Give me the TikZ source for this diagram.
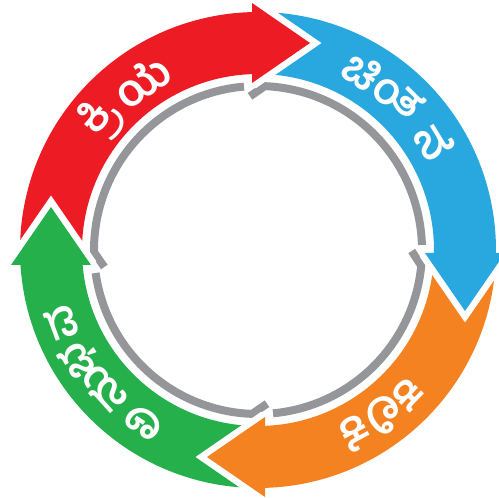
\documentclass[tikz,border=0pt]{standalone}
\usepackage{fontspec}
\newfontfamily\kn[Script=Kannada]{Hind Mysuru}
\definecolor{cred}{RGB}{237,28,36}
\definecolor{cblue}{RGB}{41,168,224}
\definecolor{corange}{RGB}{245,130,32}
\definecolor{cgreen}{RGB}{38,176,75}
\definecolor{cgray}{RGB}{148,150,153}
\newcommand\bandseg[3]{\fill[#1] (#2:238) arc[start angle=#2, end angle=#3, radius=238] -- (#3:176) arc[start angle=#3, end angle=#2, radius=176] -- cycle;}
\newcommand\headhalo[2]{\begin{scope}[rotate=#1]\draw[halo] (-#2,247) -- ({-#2+58},207) -- (-#2,167);\end{scope}}
\newcommand\headfill[3]{\begin{scope}[rotate=#1]\fill[#3] (-#2,247) -- ({-#2+58},207) -- (-#2,167) -- cycle;\end{scope}}
\begin{document}
\begin{tikzpicture}[x=1pt,y=1pt,
  halo/.style={draw=white, line width=13pt, miter limit=20},
  ring/.style={draw=cgray, line width=8pt},
  lbl/.style={text=white, font=\kn\bfseries\fontsize{44}{48}\selectfont, inner sep=0pt, anchor=center}]
\useasboundingbox (0,0) rectangle (499,498);
\begin{scope}[shift={(258,248)}]
  % gray inner ring pieces
  \draw[ring] (92.98:153.9) -- (87.62:164) arc[start angle=87.62, end angle=1.75, radius=164];
  \draw[ring] (-0.37:153.7) -- (-5.53:164) arc[start angle=-5.53, end angle=-84.75, radius=164];
  \draw[ring] (-86.65:153.96) -- (-92.03:164) arc[start angle=-92.03, end angle=-171.94, radius=164];
  \draw[ring] (186.31:154.6) -- (180.77:164) arc[start angle=180.77, end angle=94.9, radius=164];
  % coloured bands
  \bandseg{cred}{182.66}{89.66}
  \bandseg{cblue}{90.16}{-2.83}
  \bandseg{corange}{-2.33}{-90.06}
  \bandseg{cgreen}{-89.56}{-177.84}
  % heads with white halo
  \headhalo{0}{6}
  \headhalo{-90}{-3}
  \headhalo{-180}{7}
  \headhalo{90}{15}
  \headfill{0}{6}{cred}
  \headfill{-90}{-3}{cblue}
  \headfill{-180}{7}{corange}
  \headfill{90}{15}{cgreen}
  % labels
  \node[lbl, rotate=50] (r1) at (140:205) {ಕ್ರಿ};
  \node[lbl, rotate=34.5] (r2) at (124.5:205) {ಯೆ};
  \node[lbl, rotate=-34] (b1) at (56:206) {ಚಿಂ};
  \node[lbl, rotate=-45] (b2) at (44.5:211) {ತ};
  \node[lbl, rotate=-58.5] (b3) at (31.5:207) {ನೆ};
  \node[lbl, rotate=-134] (o1) at (-44:208) {ಕ};
  \node[lbl, rotate=-142.5] (o2) at (-52.5:208) {ಲಿ};
  \node[lbl, rotate=-152] (o3) at (-62:208) {ಕೆ};
  \node[lbl, rotate=146.5] (g1) at (236.5:207) {ಅ};
  \node[lbl, rotate=132] (g2) at (222:208) {ನು};
  \node[lbl, rotate=121.5] (g3) at (211.5:209) {ಭ};
  \node[lbl, rotate=110.5] (g4) at (200.5:210) {ವ};
\end{scope}
\end{tikzpicture}
\end{document}
